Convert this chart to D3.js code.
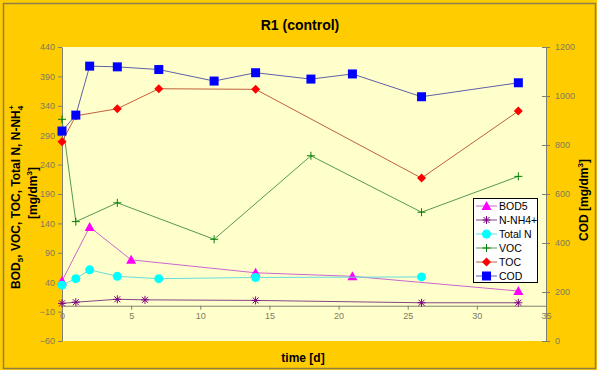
<!DOCTYPE html>
<html>
<head>
<meta charset="utf-8">
<script src="https://cdn.jsdelivr.net/npm/d3@7"></script>
<style>
  body { margin: 0; background: #fff; }
  svg { display: block; font-family: Arial, "Liberation Sans", sans-serif; }
</style>
</head>
<body>
<svg id="chart"></svg>
<script>
// data
const codDays = [0, 1, 2, 4, 7, 11, 14, 18, 21, 26, 33];
const codVals = [857, 922, 1122, 1119, 1108, 1061, 1095, 1069, 1090, 997, 1054];
const tocDays = [0, 1, 4, 7, 14, 26, 33];
const tocVals = [279, 323, 335, 369, 368, 217, 331];
const vocDays = [0, 1, 4, 11, 18, 26, 33];
const vocVals = [317, 143, 175, 113, 255, 159, 220];
const bodDays = [0, 2, 5, 14, 21, 33];
const bodVals = [42, 134, 78, 56, 50, 25];
const totNDays = [0, 1, 2, 4, 7, 14, 26];
const totNVals = [35, 46, 61, 50, 46, 48, 49];
const nh4Days = [0, 1, 4, 6, 14, 26, 33];
const nh4Vals = [4, 6, 11, 10, 9, 5, 5];

const leftTicks = d3.range(-60, 441, 50);
const rightTicks = d3.range(0, 1201, 200);
const xTicks = d3.range(0, 36, 5);

const width = 600, height = 374;
const svg = d3.select("#chart").attr("width", width).attr("height", height);

// background
svg.append("rect").attr("x", 0).attr("y", 0).attr("width", 597).attr("height", 370).attr("fill", "#FFCC00");
svg.append("rect").attr("x", 3.5).attr("y", 3.5).attr("width", 592).attr("height", 365)
  .attr("fill", "none").attr("stroke", "#8f8048").attr("stroke-width", 1.5);

const x = d3.scaleLinear().domain([0, 35]).range([62, 546]);
const yL = d3.scaleLinear().domain([-60, 440]).range([341, 47]);
const yR = d3.scaleLinear().domain([0, 1200]).range([341, 47]);

// plot area
svg.append("rect").attr("x", x(0)).attr("y", yL(440))
  .attr("width", x(35) - x(0)).attr("height", yL(-60) - yL(440)).attr("fill", "#FFFFCC");

const axisCol = "#808070";
const labelCol = "#807a60";

// left axis
const gl = svg.append("g").attr("transform", `translate(${x(0)},0)`)
  .call(d3.axisLeft(yL).tickValues(leftTicks).tickFormat(d3.format("d")).tickSize(4).tickPadding(3).tickSizeOuter(0));
// right axis
const gr = svg.append("g").attr("transform", `translate(${x(35)},0)`)
  .call(d3.axisRight(yR).tickValues(rightTicks).tickFormat(d3.format("d")).tickSize(4).tickPadding(5).tickSizeOuter(0));
gr.selectAll(".tick line").attr("x1", -4);
// x axis at y = 0
const gx = svg.append("g").attr("transform", `translate(0,${yL(0)})`)
  .call(d3.axisBottom(x).tickValues(xTicks).tickSize(4).tickPadding(3).tickSizeOuter(0));

[gl, gr, gx].forEach(g => {
  g.selectAll("path.domain").attr("stroke", axisCol);
  g.selectAll(".tick line").attr("stroke", axisCol);
  g.selectAll("text").attr("fill", labelCol).attr("font-size", 9).attr("font-family", "Arial, Liberation Sans, sans-serif");
});

// series
const series = [
  { name: "BOD5", days: bodDays, vals: bodVals, y: yL, line: "#cc66cc", fill: "#ff00ff", sym: "tri" },
  { name: "N-NH4+", days: nh4Days, vals: nh4Vals, y: yL, line: "#884488", fill: "#800080", sym: "star" },
  { name: "Total N", days: totNDays, vals: totNVals, y: yL, line: "#66dddd", fill: "#00ffff", sym: "circle" },
  { name: "VOC", days: vocDays, vals: vocVals, y: yL, line: "#559955", fill: "#008000", sym: "plus" },
  { name: "TOC", days: tocDays, vals: tocVals, y: yL, line: "#c0603c", fill: "#ff0000", sym: "diamond" },
  { name: "COD", days: codDays, vals: codVals, y: yR, line: "#6060a8", fill: "#0000ff", sym: "square" }
];

function marker(g, s, cx, cy) {
  if (s.sym === "square") {
    g.append("rect").attr("x", cx - 4.5).attr("y", cy - 4.5).attr("width", 9).attr("height", 9).attr("fill", s.fill);
  } else if (s.sym === "diamond") {
    g.append("path").attr("d", `M${cx},${cy - 4.5}L${cx + 4.5},${cy}L${cx},${cy + 4.5}L${cx - 4.5},${cy}Z`).attr("fill", s.fill);
  } else if (s.sym === "tri") {
    g.append("path").attr("d", `M${cx},${cy - 5}L${cx + 5},${cy + 4}L${cx - 5},${cy + 4}Z`).attr("fill", s.fill);
  } else if (s.sym === "circle") {
    g.append("circle").attr("cx", cx).attr("cy", cy).attr("r", 4.5).attr("fill", s.fill);
  } else if (s.sym === "plus") {
    g.append("path").attr("d", `M${cx - 4},${cy}H${cx + 4}M${cx},${cy - 4}V${cy + 4}`).attr("stroke", s.fill).attr("stroke-width", 1);
  } else if (s.sym === "star") {
    g.append("path").attr("d", `M${cx - 4},${cy}H${cx + 4}M${cx - 3},${cy - 3}L${cx + 3},${cy + 3}M${cx - 3},${cy + 3}L${cx + 3},${cy - 3}M${cx},${cy - 4}V${cy + 4}`)
      .attr("stroke", s.fill).attr("stroke-width", 1);
  }
}

const line = d3.line();
series.forEach(s => {
  const pts = s.days.map((d, i) => [x(d), s.y(s.vals[i])]);
  svg.append("path").attr("d", line(pts)).attr("fill", "none").attr("stroke", s.line).attr("stroke-width", 1);
  const g = svg.append("g");
  pts.forEach(p => marker(g, s, p[0], p[1]));
});

// titles
svg.append("text").attr("x", 300).attr("y", 30).attr("text-anchor", "middle")
  .attr("font-size", 14).attr("font-weight", "bold").text("R1 (control)");

svg.append("text").attr("x", 303).attr("y", 362).attr("text-anchor", "middle")
  .attr("font-size", 12).attr("font-weight", "bold").text("time [d]");

const lt = svg.append("text").attr("transform", "translate(20,197) rotate(-90)")
  .attr("text-anchor", "middle").attr("font-size", 12).attr("font-weight", "bold");
lt.append("tspan").text("BOD");
lt.append("tspan").attr("font-size", 8).attr("dy", 3).text("5");
lt.append("tspan").attr("dy", -3).text(", VOC, TOC, Total N, N-NH");
lt.append("tspan").attr("font-size", 8).attr("dy", 3).text("4");
lt.append("tspan").attr("font-size", 8).attr("dy", -9).attr("dx", -4).text("+");
const lt2 = svg.append("text").attr("transform", "translate(37,193) rotate(-90)")
  .attr("text-anchor", "middle").attr("font-size", 12).attr("font-weight", "bold");
lt2.append("tspan").text("[mg/dm");
lt2.append("tspan").attr("font-size", 8).attr("dy", -5).text("3");
lt2.append("tspan").attr("dy", 5).text("]");

const rt = svg.append("text").attr("transform", "translate(588,200) rotate(-90)")
  .attr("text-anchor", "middle").attr("font-size", 12).attr("font-weight", "bold");
rt.append("tspan").text("COD [mg/dm");
rt.append("tspan").attr("font-size", 8).attr("dy", -5).text("3");
rt.append("tspan").attr("dy", 5).text("]");

// legend
const lg = svg.append("g");
lg.append("rect").attr("x", 473.5).attr("y", 198.5).attr("width", 64).attr("height", 84)
  .attr("fill", "#fff").attr("stroke", "#000").attr("stroke-width", 1);
series.forEach((s, i) => {
  const cy = 206 + i * 14;
  lg.append("line").attr("x1", 476).attr("x2", 497).attr("y1", cy).attr("y2", cy).attr("stroke", s.line);
  marker(lg, s, 486.5, cy);
  lg.append("text").attr("x", 499).attr("y", cy + 4).attr("font-size", 10.5).text(s.name);
});
</script>
</body>
</html>
